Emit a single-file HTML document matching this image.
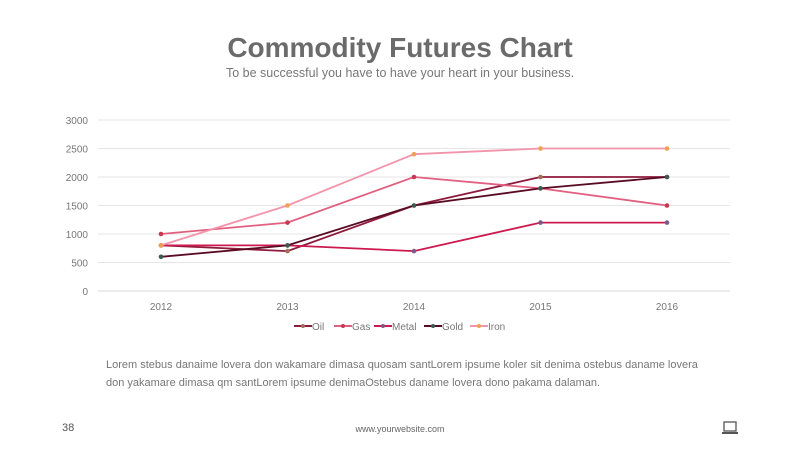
<!DOCTYPE html>
<html><head><meta charset="utf-8"><style>
body{margin:0;width:800px;height:450px;background:#fff;font-family:"Liberation Sans",sans-serif;position:relative;overflow:hidden}
.t{position:absolute;left:0;width:800px;text-align:center}
</style></head><body>
<div class="t" style="top:32px;font-size:28px;font-weight:bold;color:#6b6b6b">Commodity Futures Chart</div>
<div class="t" style="top:66px;font-size:12.5px;color:#777">To be successful you have to have your heart in your business.</div>
<svg id="c" width="800" height="450" style="position:absolute;left:0;top:0"></svg>
<div style="position:absolute;left:106px;top:356px;width:600px;font-size:11px;line-height:18px;color:#777">Lorem stebus danaime lovera don wakamare dimasa quosam santLorem ipsume koler sit denima ostebus daname lovera don yakamare dimasa qm santLorem ipsume denimaOstebus daname lovera dono pakama dalaman.</div>
<div style="position:absolute;left:62px;top:422px;font-size:11px;color:#555">38</div>
<div class="t" style="top:424px;font-size:9px;color:#666">www.yourwebsite.com</div>
<svg style="position:absolute;left:721px;top:421px" width="18" height="14"><rect x="3" y="1" width="12" height="9" fill="none" stroke="#555" stroke-width="1.3"/><rect x="1" y="11" width="16" height="2" fill="#555"/></svg>
<script>
const years=["2012","2013","2014","2015","2016"];
const yTicks=[0,500,1000,1500,2000,2500,3000];
const seriesNames=["Oil","Gas","Metal","Gold","Iron"];
const oil=[800,700,1500,2000,2000];
const gas=[1000,1200,2000,1800,1500];
const metal=[800,800,700,1200,1200];
const gold=[600,800,1500,1800,2000];
const iron=[800,1500,2400,2500,2500];
const seriesData=[oil,gas,metal,gold,iron];
const colors=["#8e1a3c","#e2607f","#cc1a4e","#5a0b24","#f294ab"];
const dots=["#a0705a","#c8384e","#7a5a8a","#3e5a50","#f0a050"];
const svg=document.getElementById('c');const NS="http://www.w3.org/2000/svg";
const X=i=>161+i*126.5, Y=v=>291-v*171/3000;
function mk(t,a,txt){const e=document.createElementNS(NS,t);for(const k in a)e.setAttribute(k,a[k]);if(txt!=null)e.textContent=txt;svg.appendChild(e);return e;}
yTicks.forEach(v=>{
const g=mk('line',{x1:98,x2:730,y1:Y(v),y2:Y(v),stroke:v?'#e6e6e6':'#d8d8d8','stroke-width':1});


const l=mk('text',{x:88,y:Y(v)+4,'text-anchor':'end','font-size':10,fill:'#777','font-family':'Liberation Sans'},v);


});
years.forEach((y,i)=>{
const l=mk('text',{x:X(i),y:310,'text-anchor':'middle','font-size':10,fill:'#777','font-family':'Liberation Sans'},y);


});
seriesData.forEach((d,s)=>{
const p=mk('polyline',{points:d.map((v,i)=>X(i)+','+Y(v)).join(' '),fill:'none',stroke:colors[s],'stroke-width':1.8});


d.forEach((v,i)=>{const c=mk('circle',{cx:X(i),cy:Y(v),r:2.3,fill:dots[s]});

});
});
const lx=[294,334,374,424,470];
seriesNames.forEach((n,s)=>{
const g=mk('line',{x1:lx[s],x2:lx[s]+18,y1:326,y2:326,stroke:colors[s],'stroke-width':2});


mk('circle',{cx:lx[s]+9,cy:326,r:2,fill:dots[s]});
const t=mk('text',{x:lx[s]+18,y:330,'font-size':10,fill:'#777','font-family':'Liberation Sans'},n);


});
</script>
</body></html>
